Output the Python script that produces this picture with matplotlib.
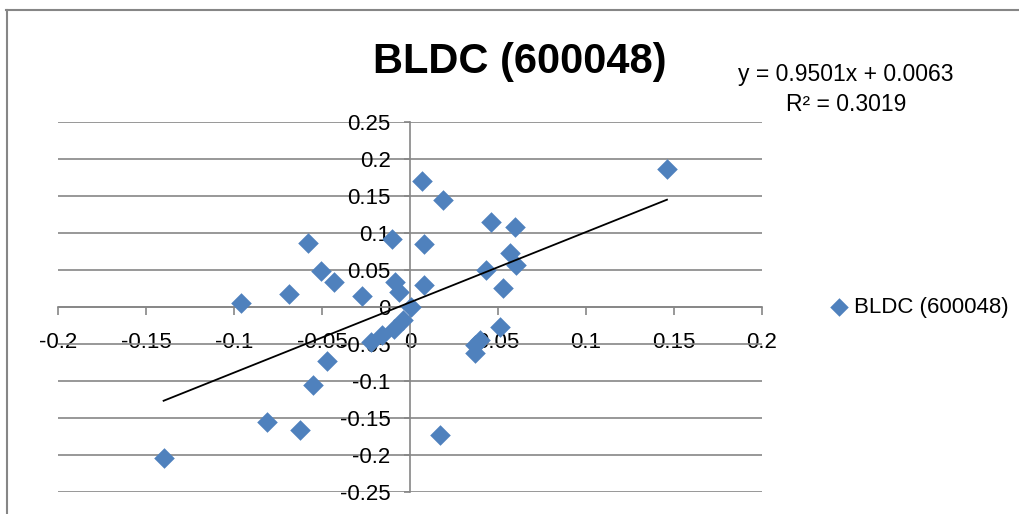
import numpy as np
import matplotlib
matplotlib.use("Agg")
import matplotlib.pyplot as plt
from matplotlib.lines import Line2D

# daily returns
x_ret = [-0.140, -0.0962, -0.0813, -0.0686, -0.0623, -0.0577, -0.0552, -0.0505,
         -0.047, -0.0432, -0.027, -0.022, -0.016, -0.0101, -0.009, -0.0086,
         -0.0061, -0.004, 0.0004, 0.0067, 0.008, 0.008, 0.0171, 0.019,
         0.037, 0.037, 0.040, 0.0429, 0.0463, 0.0514, 0.053, 0.0567,
         0.0596, 0.060, 0.146]
y_ret = [-0.2045, 0.0058, -0.156, 0.0176, -0.166, 0.086, -0.1054, 0.049,
         -0.073, 0.0333, 0.0153, -0.047, -0.038, 0.0915, -0.030, 0.0342,
         0.0207, -0.018, 0.0005, 0.1707, 0.085, 0.0297, -0.173, 0.1446,
         -0.062, -0.052, -0.045, 0.050, 0.1153, -0.0266, 0.0261, 0.0734,
         0.1085, 0.0568, 0.1865]

slope = 0.9501
intercept = 0.0063
r2 = 0.3019
series_name = "BLDC (600048)"

x_ticks = [-0.2, -0.15, -0.1, -0.05, 0, 0.05, 0.1, 0.15, 0.2]
y_ticks = [-0.25, -0.2, -0.15, -0.1, -0.05, 0, 0.05, 0.1, 0.15, 0.2, 0.25]

blue = "#4F81BD"
grey = "#868686"
plt.rcParams['font.family'] = ['Liberation Sans', 'DejaVu Sans']

W, H = 1019, 514
fig = plt.figure(figsize=(W / 100, H / 100), dpi=100)
ax = fig.add_axes([58 / W, 1 - 492 / H, (762 - 58) / W, (492 - 122) / H])

ax.set_xlim(-0.2, 0.2)
ax.set_ylim(-0.25, 0.25)

ax.scatter(x_ret, y_ret, marker="D", s=110, color=blue, zorder=3, label=series_name,
           linewidths=0)

xs = np.array([min(x_ret), max(x_ret)])
ax.plot(xs, slope * xs + intercept, color="black", lw=1.3, zorder=4)

for s in ["top", "right"]:
    ax.spines[s].set_visible(False)
ax.spines["left"].set_position(("data", 0))
ax.spines["bottom"].set_position(("data", 0))
ax.spines["left"].set_color(grey)
ax.spines["bottom"].set_color(grey)
ax.spines["left"].set_linewidth(1.2)
ax.spines["bottom"].set_linewidth(1.2)

ax.set_xticks(x_ticks)
ax.set_xticklabels([f"{v:g}" for v in x_ticks])
ax.set_yticks(y_ticks)
ax.set_yticklabels([f"{v:g}" for v in y_ticks])
ax.tick_params(axis="x", direction="out", length=6, width=1.2, color=grey,
               labelsize=16, pad=12)
ax.tick_params(axis="y", direction="out", length=4, width=1.2, color=grey,
               labelsize=16, pad=10)
ax.yaxis.grid(True, color=grey, lw=1.2)
ax.set_axisbelow(True)

fig.text(520 / W, 1 - 62 / H, series_name, fontsize=30, fontweight="bold",
         ha="center", va="center")
fig.text(846 / W, 1 - 75 / H, f"y = {slope}x + {intercept}", fontsize=16.5,
         ha="center", va="center")
fig.text(846 / W, 1 - 105 / H, f"R² = {r2}", fontsize=16.5,
         ha="center", va="center")

ax.legend(loc="center left", bbox_to_anchor=(806 / W, 1 - 307 / H),
          bbox_transform=fig.transFigure, frameon=False, fontsize=16,
          handletextpad=0.05, markerscale=0.9, handlelength=1.2)

# chart area border (top and left edges visible)
fig.add_artist(Line2D([6 / W, 1], [1 - 10 / H, 1 - 10 / H], color=grey, lw=1.5))
fig.add_artist(Line2D([7 / W, 7 / W], [0, 1 - 10 / H], color=grey, lw=1.5))

fig.savefig("out.png", dpi=100)
